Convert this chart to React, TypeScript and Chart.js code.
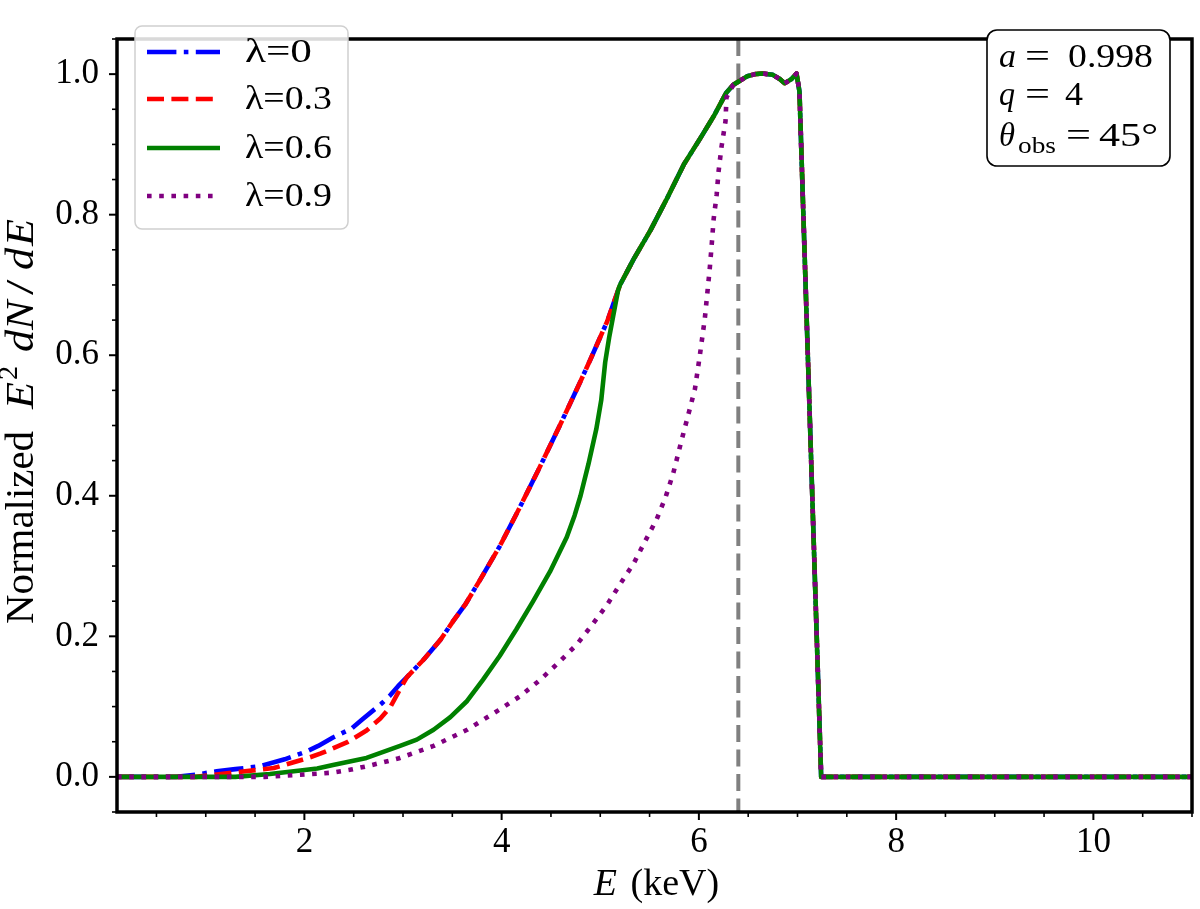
import React, { useEffect, useRef } from 'react';
import { Chart, registerables } from 'chart.js';

Chart.register(...registerables);

const SERIF = "'Liberation Serif', 'Times New Roman', serif";

// Blue peak and cut-off shared by every λ once the curves merge
const peakEnergy = [5.2, 5.34, 5.51, 5.68, 5.85, 6.02, 6.15, 6.28, 6.35, 6.49, 6.57, 6.64, 6.75, 6.82, 6.87, 6.94, 6.99, 7.02, 7.24, 8.0, 9.0, 10.0, 11.0];
const peakFlux = [0.7, 0.737, 0.778, 0.824, 0.872, 0.91, 0.94, 0.974, 0.985, 0.997, 1.0, 1.001, 0.999, 0.993, 0.987, 0.993, 1.001, 0.975, 0.0, 0.0, 0.0, 0.0, 0.0];

// λ = 0
const energyL0 = [0.1, 0.7, 0.9, 1.11, 1.3, 1.55, 1.8, 2.02, 2.14, 2.29, 2.48, 2.58, 2.78, 2.87, 2.95, 3.04, 3.21, 3.38, 3.51, 3.63, 3.78, 3.98, 4.15, 4.37, 4.59, 4.8, 4.9, 5.07, 5.15];
const fluxL0 = [0, 0, 0.003, 0.008, 0.011, 0.015, 0.025, 0.036, 0.044, 0.056, 0.069, 0.081, 0.104, 0.116, 0.129, 0.142, 0.167, 0.195, 0.222, 0.245, 0.28, 0.328, 0.374, 0.436, 0.5, 0.563, 0.594, 0.648, 0.68];

// λ = 0.3
const energyL3 = [0.1, 0.9, 1.28, 1.69, 2.02, 2.16, 2.23, 2.43, 2.56, 2.63, 2.77, 2.87, 2.97, 3.04, 3.21, 3.38, 3.51, 3.63, 3.78, 3.98, 4.15, 4.37, 4.59, 4.8, 4.9, 5.07, 5.15];
const fluxL3 = [0, 0, 0.006, 0.0125, 0.026, 0.033, 0.037, 0.049, 0.06, 0.066, 0.083, 0.099, 0.125, 0.142, 0.167, 0.195, 0.222, 0.245, 0.28, 0.328, 0.374, 0.436, 0.5, 0.563, 0.594, 0.648, 0.68];

// λ = 0.6
const energyL6 = [0.1, 1.3, 1.65, 1.96, 2.13, 2.29, 2.63, 2.97, 3.14, 3.31, 3.48, 3.65, 3.81, 3.98, 4.15, 4.32, 4.49, 4.66, 4.74, 4.8, 4.88, 4.96, 5.01, 5.05, 5.09, 5.13, 5.18];
const fluxL6 = [0, 0, 0.004, 0.009, 0.012, 0.017, 0.027, 0.044, 0.053, 0.067, 0.085, 0.108, 0.138, 0.172, 0.21, 0.25, 0.292, 0.341, 0.372, 0.4, 0.445, 0.495, 0.536, 0.59, 0.625, 0.655, 0.692];

// λ = 0.9
const energyL9 = [0.1, 1.6, 1.96, 2.29, 2.46, 2.63, 2.95, 3.31, 3.65, 3.97, 4.19, 4.39, 4.58, 4.76, 4.91, 5.07, 5.2, 5.34, 5.45, 5.57, 5.66, 5.74, 5.83, 5.89, 5.96, 6.01, 6.06, 6.11, 6.13, 6.15, 6.18, 6.2, 6.23, 6.27, 6.28];
const fluxL9 = [0, 0, 0.003, 0.006, 0.01, 0.015, 0.026, 0.044, 0.067, 0.095, 0.115, 0.138, 0.163, 0.188, 0.215, 0.245, 0.274, 0.304, 0.334, 0.366, 0.397, 0.432, 0.482, 0.514, 0.552, 0.6, 0.652, 0.723, 0.757, 0.794, 0.828, 0.862, 0.897, 0.933, 0.967];

const seriesLabels = ['λ=0', 'λ=0.3', 'λ=0.6', 'λ=0.9'];
const seriesColors = ['#0000ff', '#ff0000', '#008000', '#800080'];
const LW = 4.6;
const seriesDashes: number[][] = [
  [29.4, 7.4, 4.6, 7.4],
  [17, 7.4],
  [],
  [4.6, 7.6],
];

const xTickValues = [2, 4, 6, 8, 10];
const yTickValues = [0, 0.2, 0.4, 0.6, 0.8, 1.0];
const lineEnergy = 6.4;

const infoLines = ['a = 0.998', 'q = 4', 'θobs = 45°'];

function withPeak(e: number[], f: number[]) {
  const last = e[e.length - 1];
  const pts = e.map((x, i) => ({ x, y: f[i] }));
  peakEnergy.forEach((x, i) => {
    if (x > last) pts.push({ x, y: peakFlux[i] });
  });
  return pts;
}

// draw text stretched horizontally to a given width
function fitText(ctx: CanvasRenderingContext2D, text: string, font: string, x: number, y: number, width: number) {
  ctx.font = font;
  const w = ctx.measureText(text).width;
  ctx.save();
  ctx.translate(x, y);
  ctx.scale(width / w, 1);
  ctx.fillText(text, 0, 0);
  ctx.restore();
}

// draw text with a mild horizontal widening
function wideText(ctx: CanvasRenderingContext2D, text: string, font: string, x: number, y: number, sx = 1.08) {
  ctx.font = font;
  ctx.save();
  ctx.translate(x, y);
  ctx.scale(sx, 1);
  ctx.fillText(text, 0, 0);
  ctx.restore();
}

const decorPlugin = {
  id: 'decor',
  beforeDatasetsDraw(chart: any) {
    const { ctx, chartArea, scales } = chart;
    const x = scales.x.getPixelForValue(lineEnergy);
    ctx.save();
    ctx.strokeStyle = '#808080';
    ctx.lineWidth = 4;
    ctx.setLineDash([17, 7.5]);
    ctx.beginPath();
    ctx.moveTo(x, chartArea.top);
    ctx.lineTo(x, chartArea.bottom);
    ctx.stroke();
    ctx.restore();
  },
  afterDatasetsDraw(chart: any) {
    const { ctx, chartArea, scales } = chart;
    const { left, right, top, bottom } = chartArea;
    const xs = scales.x;
    const ys = scales.y;
    ctx.save();

    // ticks (outward, major + minor)
    ctx.strokeStyle = '#000';
    ctx.setLineDash([]);
    for (let k = 1; k <= 22; k++) {
      const v = k * 0.5;
      const major = xTickValues.includes(v);
      const px = xs.getPixelForValue(v);
      ctx.lineWidth = major ? 2 : 1.6;
      ctx.beginPath();
      ctx.moveTo(px, bottom);
      ctx.lineTo(px, bottom + (major ? 8 : 5));
      ctx.stroke();
    }
    for (let k = -1; k <= 21; k++) {
      const v = k * 0.05;
      const major = k % 4 === 0 && k >= 0;
      const py = ys.getPixelForValue(v);
      ctx.lineWidth = major ? 2 : 1.6;
      ctx.beginPath();
      ctx.moveTo(left, py);
      ctx.lineTo(left - (major ? 8 : 5), py);
      ctx.stroke();
    }

    // frame
    ctx.lineWidth = 3.5;
    ctx.strokeRect(left, top, right - left, bottom - top);

    // legend
    const lx = 135, ly = 26, lw = 213, lh = 203;
    ctx.beginPath();
    ctx.roundRect(lx, ly, lw, lh, 7);
    ctx.fillStyle = 'rgba(255,255,255,0.85)';
    ctx.fill();
    ctx.strokeStyle = '#d0d0d0';
    ctx.lineWidth = 1.5;
    ctx.stroke();
    const rowY = [52, 99, 148, 196];
    const labelW = [67, 87, 87, 87];
    seriesLabels.forEach((lab, i) => {
      ctx.save();
      ctx.strokeStyle = seriesColors[i];
      ctx.lineWidth = LW;
      ctx.lineCap = 'butt';
      ctx.setLineDash(seriesDashes[i]);
      ctx.beginPath();
      ctx.moveTo(147, rowY[i]);
      ctx.lineTo(220, rowY[i]);
      ctx.stroke();
      ctx.restore();
      ctx.fillStyle = '#000';
      ctx.textAlign = 'left';
      ctx.textBaseline = 'middle';
      fitText(ctx, lab, `34px ${SERIF}`, 245, rowY[i] + 1, labelW[i]);
    });

    // parameter box
    ctx.beginPath();
    ctx.roundRect(987, 30, 183, 136, 10);
    ctx.fillStyle = '#fff';
    ctx.fill();
    ctx.strokeStyle = '#000';
    ctx.lineWidth = 1.6;
    ctx.stroke();
    ctx.fillStyle = '#000';
    ctx.textBaseline = 'alphabetic';
    ctx.textAlign = 'left';
    const big = `34px ${SERIF}`;
    const bigI = `italic 34px ${SERIF}`;
    const small = `24px ${SERIF}`;
    const [l1, l2, l3] = infoLines;
    // line 1
    fitText(ctx, l1.slice(0, 1), bigI, 999, 67, 17);
    fitText(ctx, '=', big, 1025, 67, 25);
    fitText(ctx, l1.slice(4), big, 1068, 67, 85);
    // line 2
    fitText(ctx, l2.slice(0, 1), bigI, 999, 105, 16);
    fitText(ctx, '=', big, 1025, 105, 25);
    fitText(ctx, l2.slice(4), big, 1065, 105, 18);
    // line 3
    fitText(ctx, l3.slice(0, 1), bigI, 999, 146, 16);
    fitText(ctx, l3.slice(1, 4), small, 1018, 153, 38);
    fitText(ctx, '=', big, 1066, 146, 25);
    fitText(ctx, l3.slice(7), big, 1099, 146, 59);

    // x-axis title
    const titleSize = 38;
    const fR = `${titleSize}px ${SERIF}`;
    const fI = `italic ${titleSize}px ${SERIF}`;
    ctx.font = fI;
    const wE = ctx.measureText('E').width;
    ctx.font = fR;
    const wRest = ctx.measureText(' (keV)').width;
    const cx = (left + right) / 2;
    const tx = cx - (wE + wRest) / 2;
    ctx.font = fI; ctx.fillText('E', tx, 895);
    ctx.font = fR; ctx.fillText(' (keV)', tx + wE + 4, 895);

    // y-axis title, laid out along the vertical (local x = -page y)
    ctx.translate(33, 0);
    ctx.rotate(-Math.PI / 2);
    const mR = `40px ${SERIF}`;
    const mI = `italic 41px ${SERIF}`;
    fitText(ctx, 'Normalized', mR, -624, 0, 193);
    wideText(ctx, 'E', mI, -409, 0);
    wideText(ctx, '2', `27px ${SERIF}`, -380, -16, 1.05);
    wideText(ctx, 'd', mI, -352, 0);
    wideText(ctx, 'N', mI, -330, 0);
    wideText(ctx, '/', mR, -295, 0, 1.4);
    wideText(ctx, 'd', mI, -270, 0);
    wideText(ctx, 'E', mI, -246, 0);
    ctx.restore();
  },
};

export default function App() {
  const ref = useRef<HTMLCanvasElement>(null);
  useEffect(() => {
    const canvas = ref.current!;
    const raw = [
      [energyL0, fluxL0],
      [energyL3, fluxL3],
      [energyL6, fluxL6],
      [energyL9, fluxL9],
    ];
    const datasets = raw.map(([e, f], i) => ({
      label: seriesLabels[i],
      data: withPeak(e, f),
      borderColor: seriesColors[i],
      backgroundColor: seriesColors[i],
      borderWidth: LW,
      borderDash: seriesDashes[i],
      borderCapStyle: 'butt' as const,
      borderJoinStyle: 'round' as const,
      pointRadius: 0,
      tension: 0,
      fill: false,
      order: 4 - i,
    }));
    const tickFont = { family: SERIF, size: 35 };
    const chart = new Chart(canvas, {
      type: 'line',
      data: { datasets },
      options: {
        responsive: false,
        animation: false,
        devicePixelRatio: 1,
        layout: { padding: { top: 8, right: 8, left: 0, bottom: 0 } },
        plugins: { legend: { display: false }, tooltip: { enabled: false } },
        scales: {
          x: {
            type: 'linear',
            min: 0.1,
            max: 11,
            grid: { display: false, drawTicks: false },
            border: { display: false },
            afterBuildTicks: (axis: any) => {
              axis.ticks = xTickValues.map((v) => ({ value: v }));
            },
            afterFit: (axis: any) => {
              axis.height = 97;
            },
            ticks: {
              font: tickFont,
              color: '#000',
              padding: 10,
              maxRotation: 0,
              autoSkip: false,
              callback: (v: any) => String(v),
            },
          },
          y: {
            type: 'linear',
            min: -0.05,
            max: 1.05,
            grid: { display: false, drawTicks: false },
            border: { display: false },
            afterBuildTicks: (axis: any) => {
              axis.ticks = yTickValues.map((v) => ({ value: v }));
            },
            afterFit: (axis: any) => {
              axis.width = 117;
            },
            ticks: {
              font: tickFont,
              color: '#000',
              padding: 18,
              autoSkip: false,
              callback: (v: any) => Number(v).toFixed(1),
            },
          },
        },
      },
      plugins: [decorPlugin],
    });
    return () => chart.destroy();
  }, []);
  return (
    <div style={{ position: 'fixed', left: 0, top: 0, width: 1200, height: 909, background: '#fff' }}>
      <canvas ref={ref} width={1200} height={909} style={{ display: 'block' }} />
    </div>
  );
}
